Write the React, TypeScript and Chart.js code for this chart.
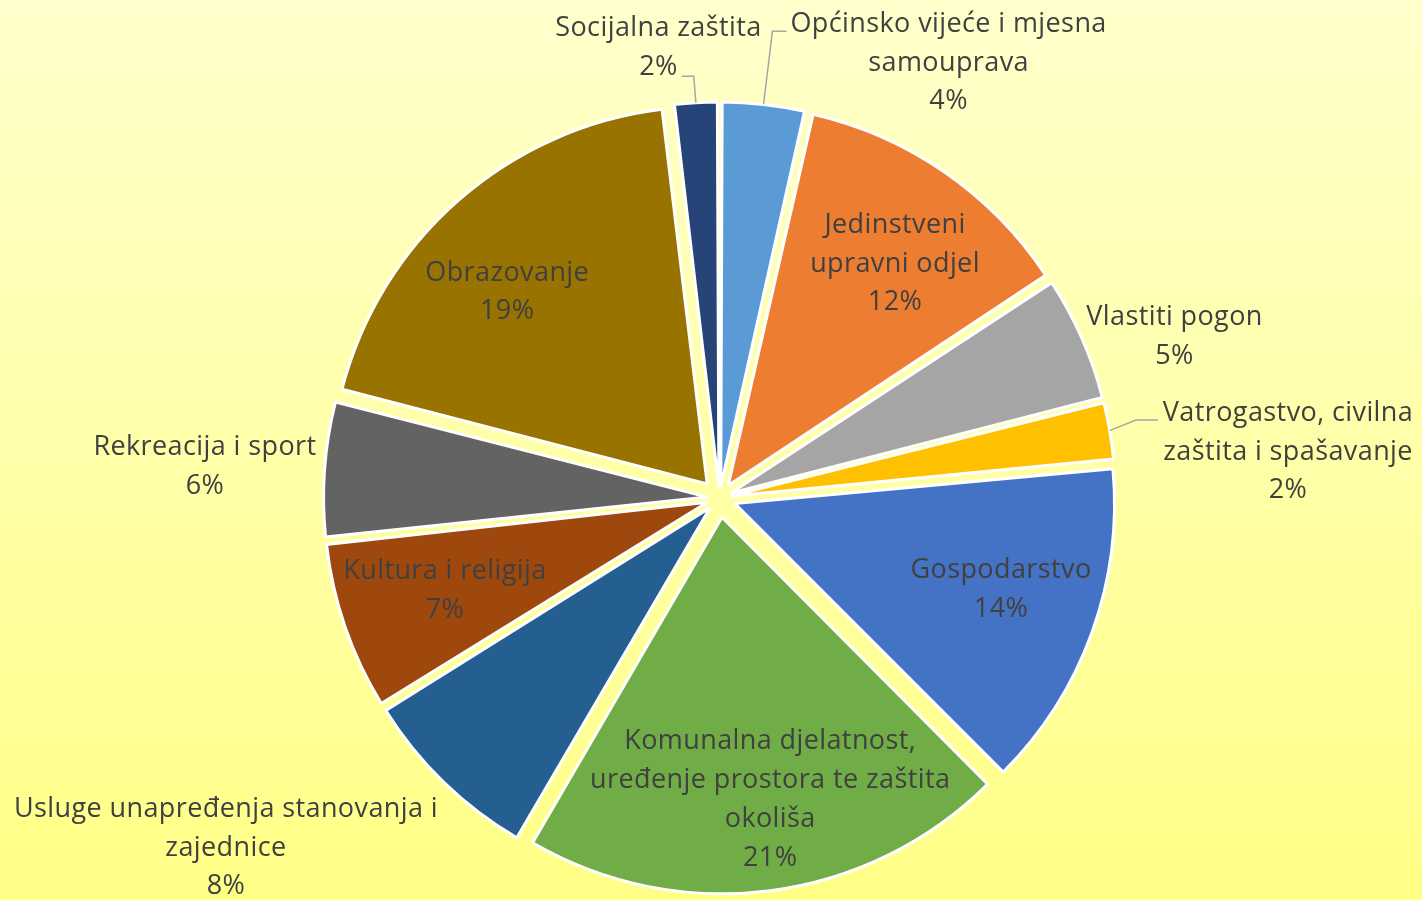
import React, { useEffect, useRef } from "react";
import { Chart, registerables } from "chart.js";

Chart.register(...registerables);

// ---- data ----
const categories = [
  "Općinsko vijeće i mjesna samouprava",
  "Jedinstveni upravni odjel",
  "Vlastiti pogon",
  "Vatrogastvo, civilna zaštita i spašavanje",
  "Gospodarstvo",
  "Komunalna djelatnost, uređenje prostora te zaštita okoliša",
  "Usluge unapređenja stanovanja i zajednice",
  "Kultura i religija",
  "Rekreacija i sport",
  "Obrazovanje",
  "Socijalna zaštita",
];
const shares = [3.55, 12.17, 5.32, 2.48, 14.01, 20.86, 7.76, 7.14, 5.74, 19.07, 1.9];
const labelLines = [
  ["Općinsko vijeće i mjesna", "samouprava"],
  ["Jedinstveni", "upravni odjel"],
  ["Vlastiti pogon"],
  ["Vatrogastvo, civilna", "zaštita i spašavanje"],
  ["Gospodarstvo"],
  ["Komunalna djelatnost,", "uređenje prostora te zaštita", "okoliša"],
  ["Usluge unapređenja stanovanja i", "zajednice"],
  ["Kultura i religija"],
  ["Rekreacija i sport"],
  ["Obrazovanje"],
  ["Socijalna zaštita"],
];
const sliceColors = [
  "#5B9BD5", "#ED7D31", "#A5A5A5", "#FFC000", "#4472C4", "#70AD47",
  "#255E91", "#9E480E", "#636363", "#997300", "#264478",
];

// ---- label layout (placement / styling, not data) ----
type Leader = { line: number; side: "left" | "right"; gap: number; dy: number; elbow: number };
type Placement = { mode: "in" | "out"; dx: number; dy: number; leader?: Leader };
const placements: Placement[] = [
  { mode: "out", dx: 185, dy: -43.4, leader: { line: 0, side: "left", gap: 4, dy: 9, elbow: 14 } },
  { mode: "in", dx: 5.8, dy: 9.2 },
  { mode: "out", dx: 92.8, dy: -3 },
  { mode: "out", dx: 178.3, dy: 19.3, leader: { line: 0, side: "left", gap: 5, dy: 8.7, elbow: 22 } },
  { mode: "in", dx: 1.1, dy: -11.5 },
  { mode: "in", dx: 12.6, dy: 4 },
  { mode: "out", dx: -217.6, dy: 64 },
  { mode: "in", dx: 7.4, dy: -6.6 },
  { mode: "out", dx: -119.6, dy: -4.6 },
  { mode: "in", dx: -16, dy: 16.8 },
  { mode: "out", dx: -37.4, dy: -56.7, leader: { line: 1, side: "right", gap: 4, dy: 11, elbow: 12 } },
];

const EXPLODE = 20;
const RADIUS = 376;
const FONT = "27px 'Open Sans', 'Noto Sans', sans-serif";
const LETTER_SPACING = "0.4px";
const LINE_H = 38.7;
const TEXT_SHIFT_Y = 2;
const INSIDE_FRAC = 0.74;

const total = shares.reduce((a, b) => a + b, 0);

const labelPlugin = {
  id: "sliceLabels",
  afterDatasetsDraw(chart: any) {
    const ctx: any = chart.ctx;
    const meta = chart.getDatasetMeta(0);
    ctx.save();
    ctx.font = FONT;
    try { ctx.letterSpacing = LETTER_SPACING; } catch (e) {}
    ctx.textAlign = "center";
    ctx.textBaseline = "middle";
    meta.data.forEach((arc: any, i: number) => {
      const { x, y, startAngle, endAngle, outerRadius } = arc.getProps(
        ["x", "y", "startAngle", "endAngle", "outerRadius"],
        true
      );
      const half = (startAngle + endAngle) / 2;
      const circ = endAngle - startAngle;
      const off = (arc.options.offset || 0) / 4;
      const fix = 1 - Math.sin(Math.min(Math.PI, circ));
      const t = off + off * fix;
      const cosA = Math.cos(half);
      const sinA = Math.sin(half);
      const tipX = x + cosA * t;
      const tipY = y + sinA * t;
      const pct = Math.round((shares[i] / total) * 100) + "%";
      const lines = [...labelLines[i], pct];
      const p = placements[i];
      let cx: number, cy: number;
      if (p.mode === "in") {
        cx = tipX + cosA * outerRadius * INSIDE_FRAC + p.dx;
        cy = tipY + sinA * outerRadius * INSIDE_FRAC + p.dy;
      } else {
        const ox = tipX + cosA * outerRadius;
        const oy = tipY + sinA * outerRadius;
        cx = ox + p.dx;
        cy = oy + p.dy;
        if (p.leader) {
          const L = p.leader;
          const ly = cy + (L.line - (lines.length - 1) / 2) * LINE_H;
          const w = ctx.measureText(lines[L.line]).width;
          const sx = L.side === "left" ? cx - w / 2 - L.gap : cx + w / 2 + L.gap;
          const sy = ly + L.dy;
          const ex = L.side === "left" ? sx - L.elbow : sx + L.elbow;
          ctx.beginPath();
          ctx.strokeStyle = "#A6A6A6";
          ctx.lineWidth = 1.5;
          ctx.moveTo(sx, sy);
          ctx.lineTo(ex, sy);
          ctx.lineTo(ox, oy);
          ctx.stroke();
        }
      }
      ctx.fillStyle = "#404040";
      lines.forEach((ln, k) => {
        const ly = cy + (k - (lines.length - 1) / 2) * LINE_H + TEXT_SHIFT_Y;
        ctx.fillText(ln, cx, ly);
      });
    });
    ctx.restore();
  },
};

export default function App() {
  const ref = useRef<HTMLCanvasElement | null>(null);
  useEffect(() => {
    if (!ref.current) return;
    const chart = new Chart(ref.current, {
      type: "pie",
      data: {
        labels: categories,
        datasets: [
          {
            data: shares,
            backgroundColor: sliceColors,
            borderColor: "#FFFFFF",
            borderWidth: 3,
            offset: (c: any) => {
              const circ = (2 * Math.PI * shares[c.dataIndex]) / total;
              const fix = 1 - Math.sin(Math.min(Math.PI, circ));
              return (4 * EXPLODE) / (1 + fix);
            },
          } as any,
        ],
      },
      options: {
        responsive: false,
        animation: false,
        events: [],
        radius: RADIUS,
        layout: { padding: { left: 17, right: 0, top: 96, bottom: 0 } },
        plugins: {
          legend: { display: false },
          tooltip: { enabled: false },
          title: { display: false },
        },
      } as any,
      plugins: [labelPlugin],
    });
    return () => chart.destroy();
  }, []);
  return (
    <div
      style={{
        position: "fixed",
        left: 0,
        top: 0,
        width: 1422,
        height: 900,
        background: "linear-gradient(to bottom, #FFFFCC 0%, #FFFF86 100%)",
      }}
    >
      <canvas ref={ref} width={1422} height={900} style={{ display: "block" }} />
    </div>
  );
}
